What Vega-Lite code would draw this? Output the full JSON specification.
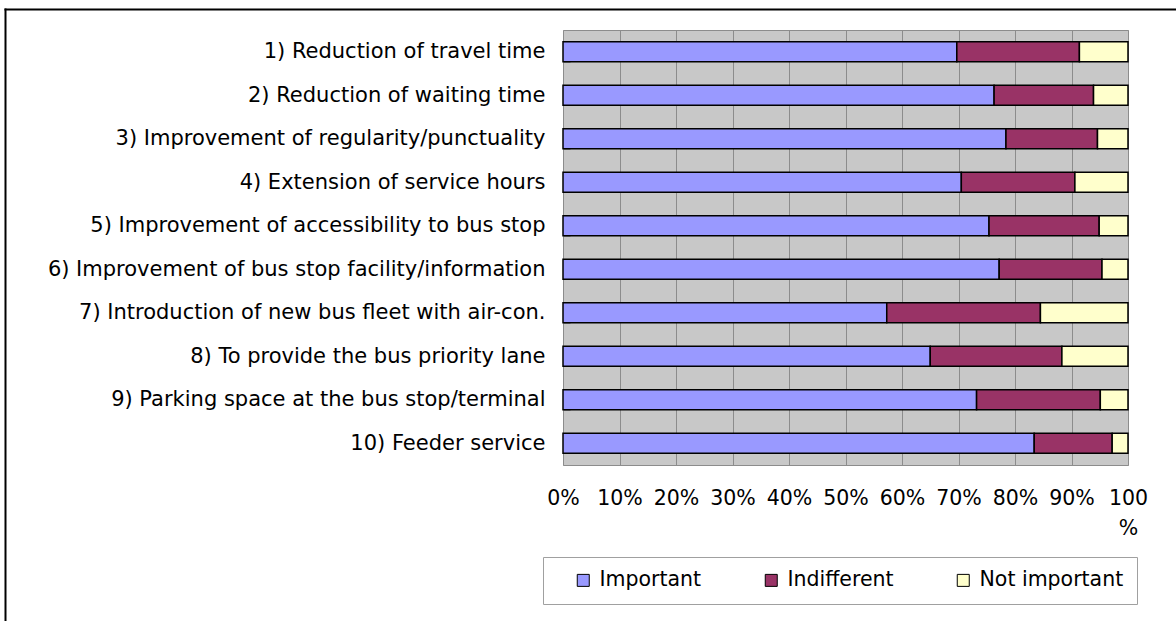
{
  "$schema": "https://vega.github.io/schema/vega-lite/v6.json",
  "autosize": "none",
  "width": 565,
  "height": 435,
  "padding": {"left": 563, "top": 30, "right": 48, "bottom": 156},
  "background": "white",
  "config": {
    "font": "DejaVu Sans",
    "view": {"fill": "#c8c8c8", "stroke": "#8c8c8c", "strokeWidth": 1}
  },
  "data": {
    "values": [
      {"item": "1) Reduction of travel time", "answer": "Important", "pct": 69.7},
      {"item": "1) Reduction of travel time", "answer": "Indifferent", "pct": 21.7},
      {"item": "1) Reduction of travel time", "answer": "Not important", "pct": 8.6},
      {"item": "2) Reduction of waiting time", "answer": "Important", "pct": 76.3},
      {"item": "2) Reduction of waiting time", "answer": "Indifferent", "pct": 17.6},
      {"item": "2) Reduction of waiting time", "answer": "Not important", "pct": 6.1},
      {"item": "3) Improvement of regularity/punctuality", "answer": "Important", "pct": 78.4},
      {"item": "3) Improvement of regularity/punctuality", "answer": "Indifferent", "pct": 16.2},
      {"item": "3) Improvement of regularity/punctuality", "answer": "Not important", "pct": 5.4},
      {"item": "4) Extension of service hours", "answer": "Important", "pct": 70.5},
      {"item": "4) Extension of service hours", "answer": "Indifferent", "pct": 20.1},
      {"item": "4) Extension of service hours", "answer": "Not important", "pct": 9.4},
      {"item": "5) Improvement of accessibility to bus stop", "answer": "Important", "pct": 75.4},
      {"item": "5) Improvement of accessibility to bus stop", "answer": "Indifferent", "pct": 19.5},
      {"item": "5) Improvement of accessibility to bus stop", "answer": "Not important", "pct": 5.1},
      {"item": "6) Improvement of bus stop facility/information", "answer": "Important", "pct": 77.2},
      {"item": "6) Improvement of bus stop facility/information", "answer": "Indifferent", "pct": 18.2},
      {"item": "6) Improvement of bus stop facility/information", "answer": "Not important", "pct": 4.6},
      {"item": "7) Introduction of new bus fleet with air-con.", "answer": "Important", "pct": 57.3},
      {"item": "7) Introduction of new bus fleet with air-con.", "answer": "Indifferent", "pct": 27.2},
      {"item": "7) Introduction of new bus fleet with air-con.", "answer": "Not important", "pct": 15.5},
      {"item": "8) To provide the bus priority lane", "answer": "Important", "pct": 65.0},
      {"item": "8) To provide the bus priority lane", "answer": "Indifferent", "pct": 23.3},
      {"item": "8) To provide the bus priority lane", "answer": "Not important", "pct": 11.7},
      {"item": "9) Parking space at the bus stop/terminal", "answer": "Important", "pct": 73.2},
      {"item": "9) Parking space at the bus stop/terminal", "answer": "Indifferent", "pct": 21.9},
      {"item": "9) Parking space at the bus stop/terminal", "answer": "Not important", "pct": 4.9},
      {"item": "10) Feeder service", "answer": "Important", "pct": 83.4},
      {"item": "10) Feeder service", "answer": "Indifferent", "pct": 13.8},
      {"item": "10) Feeder service", "answer": "Not important", "pct": 2.8}
    ]
  },
  "layer": [
    {
      "mark": {"type": "bar", "stroke": "black", "strokeWidth": 1.5},
      "encoding": {
        "y": {
          "field": "item",
          "type": "nominal",
          "sort": null,
          "scale": {"paddingInner": 0.54, "paddingOuter": 0.27},
          "axis": {
            "orient": "left",
            "title": null,
            "domain": false,
            "ticks": true,
            "tickBand": "extent",
            "tickSize": -7,
            "tickColor": "#8c8c8c",
            "labelPadding": 25,
            "labelFontSize": 21,
            "labelColor": "black",
            "labelLimit": 0
          }
        },
        "x": {
          "field": "pct",
          "type": "quantitative",
          "stack": "zero",
          "scale": {"domain": [0, 100], "nice": false},
          "axis": {
            "orient": "bottom",
            "title": null,
            "values": [0, 10, 20, 30, 40, 50, 60, 70, 80, 90, 100],
            "labelExpr": "datum.value == 100 ? ['100', '%'] : datum.value + '%'",
            "labelFontSize": 20.5,
            "labelColor": "black",
            "labelPadding": 23,
            "labelLineHeight": 30,
            "labelFlush": false,
            "labelOverlap": false,
            "domain": false,
            "ticks": false,
            "grid": true,
            "gridColor": "#8c8c8c",
            "gridOpacity": 1,
            "gridWidth": 1
          }
        },
        "color": {
          "field": "answer",
          "type": "nominal",
          "scale": {
            "domain": ["Important", "Indifferent", "Not important"],
            "range": ["#9999ff", "#993366", "#ffffcc"]
          },
          "legend": {
            "title": null,
            "orient": "none",
            "direction": "horizontal",
            "legendX": -20,
            "legendY": 527,
            "symbolType": "square",
            "symbolSize": 144,
            "symbolOffset": 17,
            "symbolStrokeColor": "black",
            "symbolStrokeWidth": 1,
            "symbolOpacity": 1,
            "labelFontSize": 20.5,
            "labelColor": "black",
            "labelOffset": 6,
            "labelExpr": "datum.label == 'Not important' ? datum.label + '\u00a0\u00a0\u00a0\u00a0' : datum.label",
            "columnPadding": 42,
            "padding": 13,
            "strokeColor": "#a0a0a0",
            "fillColor": "white"
          }
        },
        "order": {"field": "answer", "sort": "ascending"}
      }
    },
    {
      "mark": {"type": "rule", "opacity": 0},
      "encoding": {
        "x": {
          "datum": 0,
          "type": "quantitative",
          "scale": {"domain": [0, 1], "range": [-559, 1200], "nice": false, "zero": false},
          "axis": {"orient": "top", "offset": 21, "title": null, "labels": false, "ticks": false, "grid": false, "domain": true, "domainColor": "black", "domainWidth": 2}
        },
        "y": {
          "datum": 0,
          "type": "quantitative",
          "scale": {"domain": [0, 1], "range": [600, -22], "nice": false, "zero": false},
          "axis": {"orient": "right", "offset": -1123, "title": null, "labels": false, "ticks": false, "grid": false, "domain": true, "domainColor": "black", "domainWidth": 2}
        }
      }
    }
  ],
  "resolve": {"scale": {"x": "independent", "y": "independent"}}
}
